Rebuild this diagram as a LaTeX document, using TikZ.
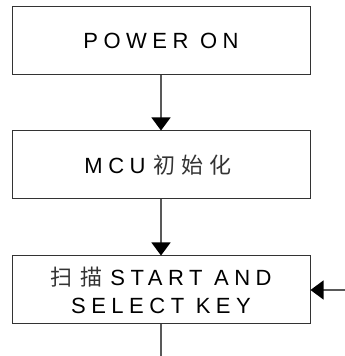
\documentclass[tikz,border=0pt]{standalone}
\usepackage{fontspec}
\setmainfont{Liberation Sans}[LetterSpace=25]
\newfontfamily\cjk{Noto Sans CJK SC}[LetterSpace=25,Color=333333]
\usetikzlibrary{arrows.meta}
\newcommand{\gp}{\kern6pt}
\newcommand{\gpb}{\kern8pt}
\tikzset{
  flowbox/.style={draw=black!80, line width=1pt, minimum width=298pt, minimum height=68pt,
    inner sep=0pt, align=center, font=\fontsize{22}{28}\selectfont, text=black},
  conn/.style={draw=black!65, line width=1.2pt, -{Triangle[width=19pt,length=13pt,fill=black,color=black]}},
}
\begin{document}
\begin{tikzpicture}[x=1pt,y=1pt]
\useasboundingbox (0,0) rectangle (345,356);
\node[flowbox] (b1) at (161,315) {POWER ON};
\node[flowbox] (b2) at (161,191) {MCU\gpb{\cjk 初\gp 始\gp 化}\gp};
\node[flowbox] (b3) at (161,66) {{\cjk 扫\gpb 描}\gpb START AND\\SELECT KEY};
\coordinate (bot) at (161,0);
\coordinate (rin) at (345,66);
\draw[conn] (b1) -- (b2);
\draw[conn] (b2) -- (b3);
\draw[draw=black!65, line width=1.2pt] (b3) -- (bot);
\draw[conn] (rin) -- (b3);
\end{tikzpicture}
\end{document}
